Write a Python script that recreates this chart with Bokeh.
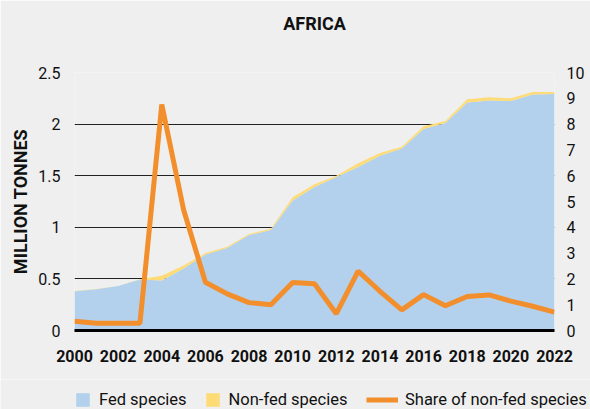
from bokeh.plotting import figure
from bokeh.models import (Range1d, LinearAxis, FixedTicker, CustomJSTickFormatter,
                          Legend, LegendItem, ColumnDataSource, Title)
from bokeh.embed import file_html
from bokeh.resources import INLINE

# ---- data ----
years = list(range(2000, 2023))
fed = [0.38, 0.40, 0.43, 0.495, 0.484, 0.60, 0.736, 0.80, 0.925, 0.973, 1.26, 1.39,
       1.488, 1.585, 1.694, 1.764, 1.952, 2.01, 2.21, 2.229, 2.223, 2.287, 2.292]
nonfed = [0.002, 0.001, 0.001, 0.001, 0.046, 0.029, 0.014, 0.011, 0.010, 0.012, 0.030, 0.028,
          0.012, 0.035, 0.026, 0.016, 0.028, 0.020, 0.030, 0.031, 0.027, 0.023, 0.018]
share = [0.36, 0.28, 0.28, 0.28, 8.76, 4.68, 1.87, 1.42, 1.08, 1.00, 1.86, 1.81,
         0.65, 2.30, 1.52, 0.80, 1.39, 0.96, 1.32, 1.38, 1.14, 0.94, 0.71]
left_ticks = [0, 0.5, 1, 1.5, 2, 2.5]
right_ticks = list(range(0, 11))
x_ticks = list(range(2000, 2023, 2))
series_names = ["Fed species", "Non-fed species", "Share of non-fed species"]
title_text = "AFRICA"
y_label = "MILLION TONNES"

FONT = "Roboto"
BG = "#efefef"
BLUE = "#b3d1ed"
YELLOW = "#fddc78"
ORANGE = "#f28e2b"
INK = "#111111"

total = [f + n for f, n in zip(fed, nonfed)]
src = ColumnDataSource(dict(year=years, fed=fed, total=total, share=share,
                            zero=[0] * len(years)))

p = figure(width=590, height=379, output_backend="svg", toolbar_location=None,
           title=None,
           x_range=Range1d(2000, 2022), y_range=Range1d(0, 2.5),
           min_border_left=74, min_border_right=36, min_border_top=72, min_border_bottom=49)
p.extra_y_ranges = {"share": Range1d(0, 10)}
p.background_fill_color = BG
p.border_fill_color = BG
p.outline_line_color = None

# spacer between frame and title, then the title (outermost)
p.add_layout(Title(text=" ", text_font_size="2px", standoff=33, text_color=BG), "above")
p.add_layout(Title(text=title_text, align="center", text_font=FONT, text_font_size="18px",
                   text_font_style="bold", text_color=INK, standoff=4), "above")

# grid
p.xgrid.visible = False
p.ygrid.grid_line_color = "#222222"
p.ygrid.grid_line_width = 1

# glyphs
r_fed = p.varea(x="year", y1="zero", y2="fed", source=src, fill_color=BLUE)
r_non = p.varea(x="year", y1="fed", y2="total", source=src, fill_color=YELLOW)
r_share = p.line(x="year", y="share", source=src, y_range_name="share",
                 line_color=ORANGE, line_width=5)

# x axis
xa = p.xaxis[0]
xa.ticker = FixedTicker(ticks=x_ticks)
xa.major_tick_line_color = None
xa.minor_tick_line_color = None
xa.axis_line_color = "black"
xa.axis_line_width = 3
xa.major_label_text_font = FONT
xa.major_label_text_font_size = "16px"
xa.major_label_text_font_style = "bold"
xa.major_label_text_color = INK
xa.major_label_standoff = 13

# left axis
ya = p.yaxis[0]
ya.ticker = FixedTicker(ticks=left_ticks)
ya.formatter = CustomJSTickFormatter(code="return tick.toString()")
ya.major_tick_line_color = None
ya.minor_tick_line_color = None
ya.axis_line_color = None
ya.major_label_text_font = FONT
ya.major_label_text_font_size = "16px"
ya.major_label_text_color = INK
ya.major_label_standoff = 8
ya.axis_label = y_label
ya.axis_label_text_font = FONT
ya.axis_label_text_font_size = "18px"
ya.axis_label_text_font_style = "bold"
ya.axis_label_text_color = INK
ya.axis_label_standoff = 4

# right axis
ra = LinearAxis(y_range_name="share", ticker=FixedTicker(ticks=right_ticks))
ra.major_tick_line_color = None
ra.minor_tick_line_color = None
ra.axis_line_color = None
ra.major_label_text_font = FONT
ra.major_label_text_font_size = "16px"
ra.major_label_text_color = INK
ra.major_label_standoff = 6
p.add_layout(ra, "right")

# ---- legend strip (separate small figure below the chart) ----
lp = figure(width=590, height=30, output_backend="svg", toolbar_location=None,
            x_range=Range1d(0, 1), y_range=Range1d(0, 1),
            x_axis_type=None, y_axis_type=None,
            min_border_left=0, min_border_right=0, min_border_top=0, min_border_bottom=0)
lp.background_fill_color = BG
lp.border_fill_color = BG
lp.outline_line_color = None
lp.grid.visible = False
# proxy renderers (their data lie outside the strip's view) for the legend swatches
proxy = ColumnDataSource(dict(x=[5, 6], y1=[5, 5], y2=[6, 6]))
l_fed = lp.varea(x="x", y1="y1", y2="y2", source=proxy, fill_color=BLUE)
l_non = lp.varea(x="x", y1="y1", y2="y2", source=proxy, fill_color=YELLOW)
l_share = lp.line(x="x", y="y1", source=proxy, line_color=ORANGE, line_width=5)


def style_legend(lg):
    lg.orientation = "horizontal"
    lg.background_fill_alpha = 0
    lg.border_line_alpha = 0
    lg.padding = 0
    lg.margin = 0
    lg.label_text_font = FONT
    lg.label_text_font_size = "16.5px"
    lg.label_text_color = INK
    lg.glyph_height = 17


leg1 = Legend(items=[LegendItem(label=series_names[0], renderers=[l_fed]),
                     LegendItem(label=series_names[1], renderers=[l_non])],
              location=(74, 0))
style_legend(leg1)
leg1.glyph_width = 17
leg1.label_standoff = 8
leg1.spacing = 17
lp.add_layout(leg1, "center")

leg2 = Legend(items=[LegendItem(label=series_names[2], renderers=[l_share])],
              location=(366, 0))
style_legend(leg2)
leg2.glyph_width = 32
leg2.label_standoff = 7
lp.add_layout(leg2, "center")

open("out.html", "w").write(file_html([p, lp], INLINE))
